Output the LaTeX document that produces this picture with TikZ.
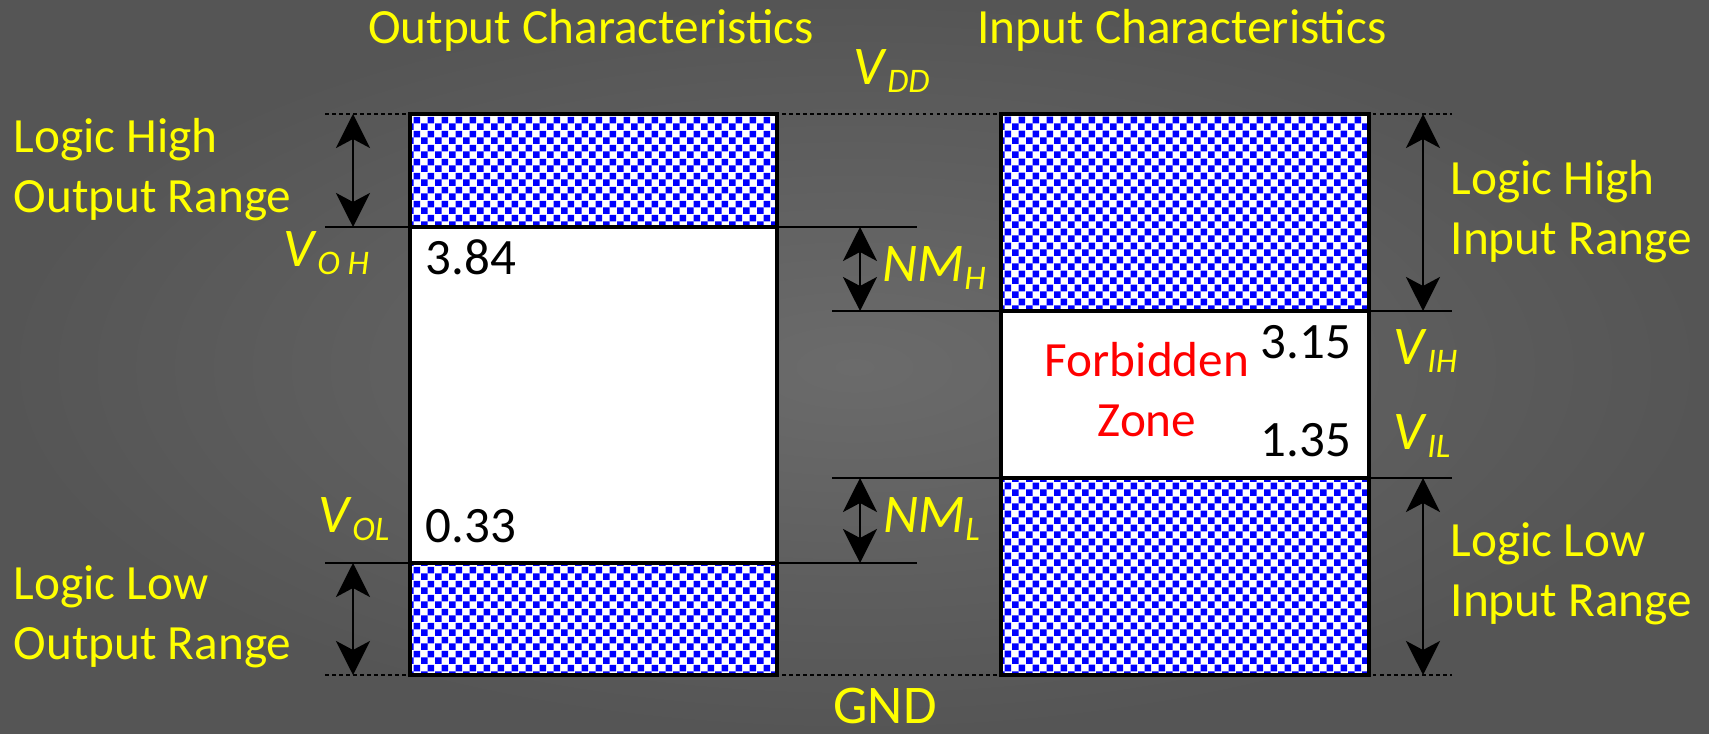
\documentclass[tikz,border=0pt]{standalone}
\usepackage{fontspec}
\setmainfont{Carlito}
\usetikzlibrary{arrows.meta,patterns.meta}

\definecolor{bgin}{HTML}{6B6B6B}
\definecolor{bgout}{HTML}{555555}
\definecolor{chkblue}{HTML}{0000FF}
\definecolor{lblyellow}{HTML}{FFFF00}
\definecolor{zonered}{HTML}{FF0000}

\tikzdeclarepattern{
  name=checker,
  type=uncolored,
  bottom left={(0pt,0pt)},
  top right={(4pt,4pt)},
  tile size={(4pt,4pt)},
  code={
    \fill (0pt,0pt) rectangle (2pt,2pt);
    \fill (2pt,2pt) rectangle (4pt,4pt);
  }
}

\newcommand\lvsub[2]{\textit{#1}\raisebox{-2.2pt}{\fontsize{9.8}{10}\selectfont\textit{#2}}}

\tikzset{
  yel/.style={text=lblyellow, inner sep=0pt, font=\fontsize{14}{17.1}\selectfont},
  sym/.style={text=lblyellow, inner sep=0pt, font=\fontsize{15.5}{18}\selectfont},
  num/.style={text=black, inner sep=0pt, font=\fontsize{14.5}{17}\selectfont},
  levelline/.style={line width=0.6pt},
  rail/.style={line width=0.5pt, dash pattern=on 1pt off 1pt},
  rangearrow/.style={line width=0.6pt,
    {Stealth[length=0.34cm,width=0.34cm,inset=0.09cm]}-{Stealth[length=0.34cm,width=0.34cm,inset=0.09cm]}},
  hatch/.style={pattern=checker, pattern color=chkblue},
  boxframe/.style={line width=1.2pt}
}

\begin{document}
\begin{tikzpicture}[x=0.01cm, y=-0.01cm]
\useasboundingbox (0,0) rectangle (1709,734);
\shade[inner color=bgin, outer color=bgout] (0,0) rectangle (1709,734);

\coordinate (vddL) at (325,114);
\coordinate (vddR) at (1452,114);
\coordinate (gndL) at (325,675);
\coordinate (gndR) at (1452,675);
\coordinate (vohL) at (325,227);
\coordinate (vohR) at (917,227);
\coordinate (volL) at (325,563);
\coordinate (volR) at (917,563);
\coordinate (vihL) at (832,311);
\coordinate (vihR) at (1452,311);
\coordinate (vilL) at (832,478);
\coordinate (vilR) at (1452,478);

\draw[rail] (vddL) -- (vddR);
\draw[rail] (gndL) -- (gndR);
\draw[levelline] (vohL) -- (vohR);
\draw[levelline] (volL) -- (volR);
\draw[levelline] (vihL) -- (vihR);
\draw[levelline] (vilL) -- (vilR);

% output box
\fill[white] (410,114) rectangle (777,675);
\path[hatch] (410,114) rectangle (777,227);
\path[hatch] (410,563) rectangle (777,675);
\draw[boxframe] (410,114) rectangle (777,675);
\draw[boxframe] (410,227) -- (777,227);
\draw[boxframe] (410,563) -- (777,563);

% input box
\fill[white] (1001,114) rectangle (1369,675);
\path[hatch] (1001,114) rectangle (1369,311);
\path[hatch] (1001,478) rectangle (1369,675);
\draw[boxframe] (1001,114) rectangle (1369,675);
\draw[boxframe] (1001,311) -- (1369,311);
\draw[boxframe] (1001,478) -- (1369,478);

\coordinate (axL) at (353,0);
\coordinate (axM) at (860,0);
\coordinate (axR) at (1423,0);
\draw[rangearrow] (axL |- vddL) -- (axL |- vohL);
\draw[rangearrow] (axL |- volL) -- (axL |- gndL);
\draw[rangearrow] (axM |- vohL) -- (axM |- vihL);
\draw[rangearrow] (axM |- vilL) -- (axM |- volL);
\draw[rangearrow] (axR |- vddR) -- (axR |- vihR);
\draw[rangearrow] (axR |- vilR) -- (axR |- gndR);

\node[yel, anchor=base] (outtitle) at (591,44) {Output Characteristics};
\node[yel, anchor=base] (intitle) at (1182,44) {Input Characteristics};
\node[sym, anchor=base west] (vdd) at (853,85) {\lvsub{V}{DD}};
\node[sym, anchor=base] (gnd) at (885,724) {GND};

\node[yel, anchor=base west, align=left] (outhigh) at (13,213) {Logic High\\Output Range};
\node[yel, anchor=base west, align=left] (outlow) at (13,660) {Logic Low\\Output Range};
\node[yel, anchor=base west, align=left] (inhigh) at (1450,255) {Logic High\\Input Range};
\node[yel, anchor=base west, align=left] (inlow) at (1450,617) {Logic Low\\Input Range};

\node[sym, anchor=base west] (voh) at (283,267) {\lvsub{V}{O H}};
\node[sym, anchor=base west] (vol) at (318,533) {\lvsub{V}{OL}};
\node[sym, anchor=base west] (nmh) at (882,282) {\lvsub{NM}{H}};
\node[sym, anchor=base west] (nml) at (883,533) {\lvsub{NM}{L}};
\node[sym, anchor=base west] (vih) at (1393,365) {\lvsub{V}{IH}};
\node[sym, anchor=base west] (vil) at (1393,450) {\lvsub{V}{IL}};

\node[num, anchor=base west] (ohval) at (425,275) {3.84};
\node[num, anchor=base west] (olval) at (425,543) {0.33};
\node[num, anchor=base east] (ihval) at (1352,359) {3.15};
\node[num, anchor=base east] (ilval) at (1352,457) {1.35};
\node[yel, text=zonered, anchor=base, align=center] (zone) at (1147,437) {Forbidden\\Zone};
\end{tikzpicture}
\end{document}
